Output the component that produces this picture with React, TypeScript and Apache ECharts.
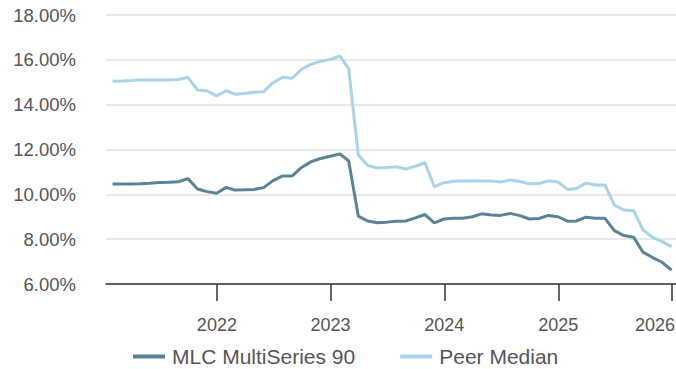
import React, { useEffect, useRef } from "react";
import * as echarts from "echarts";

// Month-end observations, Jan 2021 .. Dec 2025
const startYear = 2021;
const monthCount = 60;

const mlcValues = [
  10.46, 10.46, 10.46, 10.47, 10.49, 10.53, 10.54, 10.56, 10.7, 10.24, 10.12, 10.05,
  10.31, 10.19, 10.2, 10.22, 10.3, 10.61, 10.82, 10.82, 11.2, 11.46, 11.6, 11.7,
  11.8, 11.5, 9.03, 8.81, 8.73, 8.76, 8.8, 8.81, 8.95, 9.1, 8.73, 8.9,
  8.93, 8.93, 9.0, 9.13, 9.08, 9.06, 9.15, 9.05, 8.9, 8.92, 9.06, 9.0,
  8.8, 8.81, 8.98, 8.93, 8.93, 8.38, 8.16, 8.09, 7.42, 7.18, 6.97, 6.62,
];

const peerValues = [
  15.05, 15.06, 15.08, 15.1, 15.1, 15.1, 15.1, 15.12, 15.22, 14.65, 14.62, 14.39,
  14.62, 14.47, 14.5, 14.55, 14.58, 14.98, 15.22, 15.18, 15.58, 15.81, 15.93, 16.02,
  16.17, 15.62, 11.75, 11.3, 11.17, 11.2, 11.23, 11.13, 11.25, 11.41, 10.34, 10.52,
  10.58, 10.6, 10.61, 10.6, 10.6, 10.55, 10.64, 10.57, 10.47, 10.48, 10.6, 10.55,
  10.22, 10.26, 10.5, 10.42, 10.42, 9.52, 9.3, 9.27, 8.41, 8.08, 7.89, 7.67,
];

const seriesNames = ["MLC MultiSeries 90", "Peer Median"];
const yTicks = { min: 6, max: 18, step: 2 };
const xRange = { min: "2021-01-10", max: "2026-01-14" };
const lastYearLabel = 2026;

const dates: number[] = Array.from({ length: monthCount }, (_, i) =>
  Date.UTC(startYear + Math.floor(i / 12), (i % 12) + 1, 0)
);

const FONT = "'Liberation Sans', Arial, sans-serif";

export default function App() {
  const ref = useRef<HTMLDivElement>(null);
  useEffect(() => {
    if (!ref.current) return;
    const chart = echarts.init(ref.current, undefined, { renderer: "svg" });
    const YEAR = 365 * 24 * 3600 * 1000;
    chart.setOption({
      animation: false,
      textStyle: { fontFamily: FONT },
      grid: {
        left: 106,
        right: 0,
        top: 15,
        bottom: 85,
        containLabel: false,
        outerBoundsMode: "none",
      },
      xAxis: {
        type: "time",
        min: new Date(xRange.min + "T00:00:00Z").getTime(),
        max: new Date(xRange.max + "T00:00:00Z").getTime(),
        minInterval: YEAR,
        maxInterval: YEAR + 24 * 3600 * 1000,
        axisLine: { show: true, lineStyle: { color: "#333", width: 1.5 } },
        axisTick: { show: true, length: 17, lineStyle: { color: "#333", width: 1.5 } },
        splitLine: { show: false },
        axisLabel: {
          color: "#555",
          fontSize: 18,
          fontFamily: FONT,
          margin: 32,
          formatter: (v: number) => {
            const y = new Date(v).getUTCFullYear();
            return y === lastYearLabel ? "{last|" + y + "}" : String(y);
          },
          rich: {
            last: {
              color: "#555",
              fontSize: 18,
              fontFamily: FONT,
              padding: [0, 34, 0, 0],
            },
          },
        },
      },
      yAxis: {
        type: "value",
        min: yTicks.min,
        max: yTicks.max,
        interval: yTicks.step,
        axisLine: { show: false },
        axisTick: { show: false },
        splitLine: { show: true, lineStyle: { color: "#e2e2e2", width: 1.5 } },
        axisLabel: {
          color: "#555",
          fontSize: 18.5,
          fontFamily: FONT,
          margin: 30,
          formatter: (v: number) => v.toFixed(2) + "%",
        },
      },
      legend: {
        top: 341,
        left: 128,
        icon: "rect",
        itemWidth: 32,
        itemHeight: 4,
        itemGap: 45,
        textStyle: {
          color: "#555",
          fontSize: 21,
          fontFamily: FONT,
          padding: [0, 0, 0, 2],
        },
        data: seriesNames,
      },
      series: [
        {
          name: seriesNames[0],
          type: "line",
          symbol: "none",
          data: dates.map((d, i) => [d, mlcValues[i]]),
          lineStyle: { color: "#5b8397", width: 3 },
          itemStyle: { color: "#5b8397" },
          z: 3,
        },
        {
          name: seriesNames[1],
          type: "line",
          symbol: "none",
          data: dates.map((d, i) => [d, peerValues[i]]),
          lineStyle: { color: "#a9d4e8", width: 3 },
          itemStyle: { color: "#a9d4e8" },
          z: 2,
        },
      ],
    });
    return () => chart.dispose();
  }, []);
  return (
    <div
      ref={ref}
      style={{ position: "absolute", left: 0, top: 0, width: 676, height: 369 }}
    />
  );
}
